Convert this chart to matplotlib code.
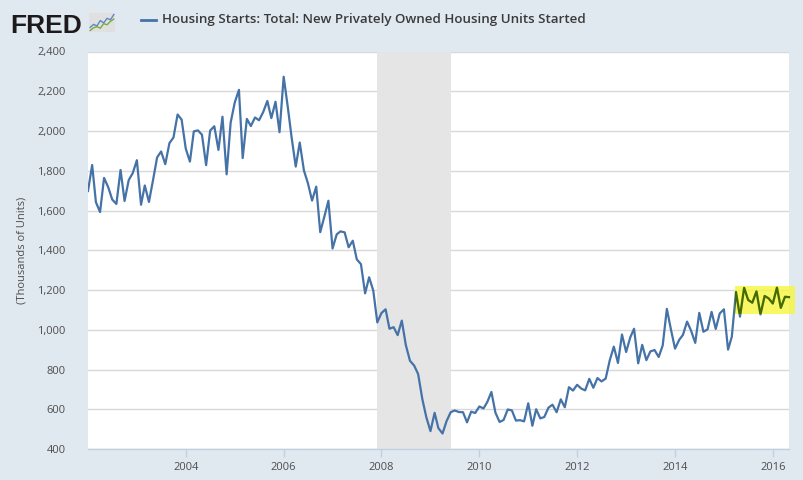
import numpy as np
import pandas as pd
import matplotlib
matplotlib.use("Agg")
import matplotlib.pyplot as plt
import matplotlib.dates as mdates
from matplotlib.patches import Rectangle
from matplotlib.lines import Line2D
from matplotlib.ticker import FuncFormatter

# Housing starts, thousands of units (monthly, SAAR), Jan 2002 - May 2016
y2002 = [1698, 1829, 1642, 1592, 1764, 1717, 1655, 1633, 1804, 1648, 1753, 1788]
y2003 = [1853, 1629, 1726, 1643, 1751, 1867, 1897, 1833, 1939, 1967, 2083, 2057]
y2004 = [1911, 1846, 1998, 2003, 1981, 1828, 2002, 2024, 1905, 2072, 1782, 2042]
y2005 = [2144, 2207, 1864, 2061, 2025, 2068, 2054, 2095, 2151, 2065, 2147, 1994]
y2006 = [2273, 2119, 1969, 1821, 1942, 1802, 1737, 1650, 1720, 1491, 1570, 1649]
y2007 = [1409, 1480, 1495, 1490, 1415, 1448, 1354, 1330, 1183, 1264, 1197, 1037]
y2008 = [1084, 1103, 1005, 1013, 973, 1046, 923, 844, 820, 777, 652, 560]
y2009 = [490, 582, 505, 478, 540, 585, 594, 586, 585, 534, 588, 581]
y2010 = [614, 604, 636, 687, 583, 536, 546, 599, 594, 543, 545, 539]
y2011 = [630, 517, 600, 554, 561, 608, 623, 585, 650, 610, 711, 694]
y2012 = [723, 704, 695, 753, 708, 757, 740, 754, 847, 915, 833, 976]
y2013 = [888, 962, 1005, 831, 924, 847, 891, 898, 863, 921, 1105, 1003]
y2014 = [905, 949, 974, 1041, 995, 934, 1085, 990, 1002, 1090, 1004, 1082]
y2015 = [1103, 900, 965, 1190, 1066, 1211, 1150, 1136, 1193, 1077, 1170, 1158]
y2016 = [1132, 1212, 1110, 1166, 1164]

starts = y2002 + y2003 + y2004 + y2005 + y2006 + y2007 + y2008 + y2009 + \
    y2010 + y2011 + y2012 + y2013 + y2014 + y2015 + y2016
dates = pd.date_range("2002-01-01", periods=len(starts), freq="MS")

recession = ("2007-12-01", "2009-06-01")
highlight_x = ("2015-03-25", "2016-06-14")
highlight_y = (1077, 1220)

y_ticks = list(range(400, 2401, 200))
x_tick_years = [2004, 2006, 2008, 2010, 2012, 2014, 2016]

# small logo sparkline
logo_blue = [1.2, 2, 1.6, 3, 2.4, 3.6, 3.2, 4.6]
logo_green = [0.4, 1.1, 1.4, 1.0, 2.2, 1.9, 2.8, 3.4]

BG = "#e1e9f0"
BLUE = "#4572a7"
TXT = "#4d4d4d"

plt.rcParams["font.family"] = ["Open Sans", "DejaVu Sans"]

fig = plt.figure(figsize=(8.04, 4.8), dpi=100, facecolor=BG)
W, H = 804, 480
ax = fig.add_axes([88 / W, 1 - 449 / H, (789 - 88) / W, (449 - 51.5) / H])
ax.set_facecolor("white")

ax.axvspan(pd.Timestamp(recession[0]), pd.Timestamp(recession[1]),
           color="#e5e5e5", lw=0, zorder=1)

ax.plot(dates, starts, color=BLUE, lw=1.6, solid_joinstyle="round", zorder=3)

x0 = mdates.date2num(pd.Timestamp(highlight_x[0]))
x1 = mdates.date2num(pd.Timestamp(highlight_x[1]))
rect = Rectangle((x0, highlight_y[0]), x1 - x0, highlight_y[1] - highlight_y[0],
                 facecolor="#f7f73a", alpha=0.78, lw=0, zorder=4, clip_on=False)
ax.add_patch(rect)
green, = ax.plot(dates, starts, color="#456b00", lw=1.6,
                 solid_joinstyle="round", zorder=5)
green.set_clip_path(rect)

ax.set_xlim(dates[0], dates[-1])
ax.set_ylim(400, 2400)
ax.set_yticks(y_ticks)
ax.yaxis.set_major_formatter(FuncFormatter(lambda v, p: f"{int(v):,}"))
ax.set_xticks([pd.Timestamp(f"{yr}-01-01") for yr in x_tick_years])
ax.xaxis.set_major_formatter(mdates.DateFormatter("%Y"))

ax.grid(axis="y", color="#d8d8d8", lw=1)
ax.set_axisbelow(True)
for s in ["top", "right", "left"]:
    ax.spines[s].set_visible(False)
ax.spines["bottom"].set_color("#c0d0e0")
ax.spines["bottom"].set_linewidth(1)
ax.tick_params(axis="y", length=0, pad=16, labelsize=8, labelcolor=TXT)
ax.tick_params(axis="x", length=6, width=1, color="#c0d0e0", pad=3,
               labelsize=8, labelcolor=TXT)
ax.set_ylabel("(Thousands of Units)", fontsize=8, color=TXT, labelpad=7)

# header: logo + legend
fig.text(10 / W, 1 - 33 / H, "FRED", fontsize=19, fontweight="bold",
         family=["Liberation Sans", "DejaVu Sans"], color="#1e1a1b",
         va="baseline", ha="left")
logo = fig.add_axes([89 / W, 1 - 32 / H, 26 / W, 19 / H])
logo.set_facecolor("#e0e0e0")
logo.plot(logo_blue, color="#5f86c6", lw=1)
logo.plot(logo_green, color="#7aab3c", lw=1)
logo.set_xticks([])
logo.set_yticks([])
logo.set_ylim(0, 5)
for s in logo.spines.values():
    s.set_visible(False)

fig.add_artist(Line2D([141 / W, 156 / W], [1 - 20 / H, 1 - 20 / H],
                      color=BLUE, lw=2))
fig.text(162 / W, 1 - 20 / H,
         "Housing Starts: Total: New Privately Owned Housing Units Started",
         fontsize=9.65, fontweight="semibold", color="#3a3a3a",
         va="center", ha="left")

fig.savefig("out.png", dpi=100, facecolor=BG)
